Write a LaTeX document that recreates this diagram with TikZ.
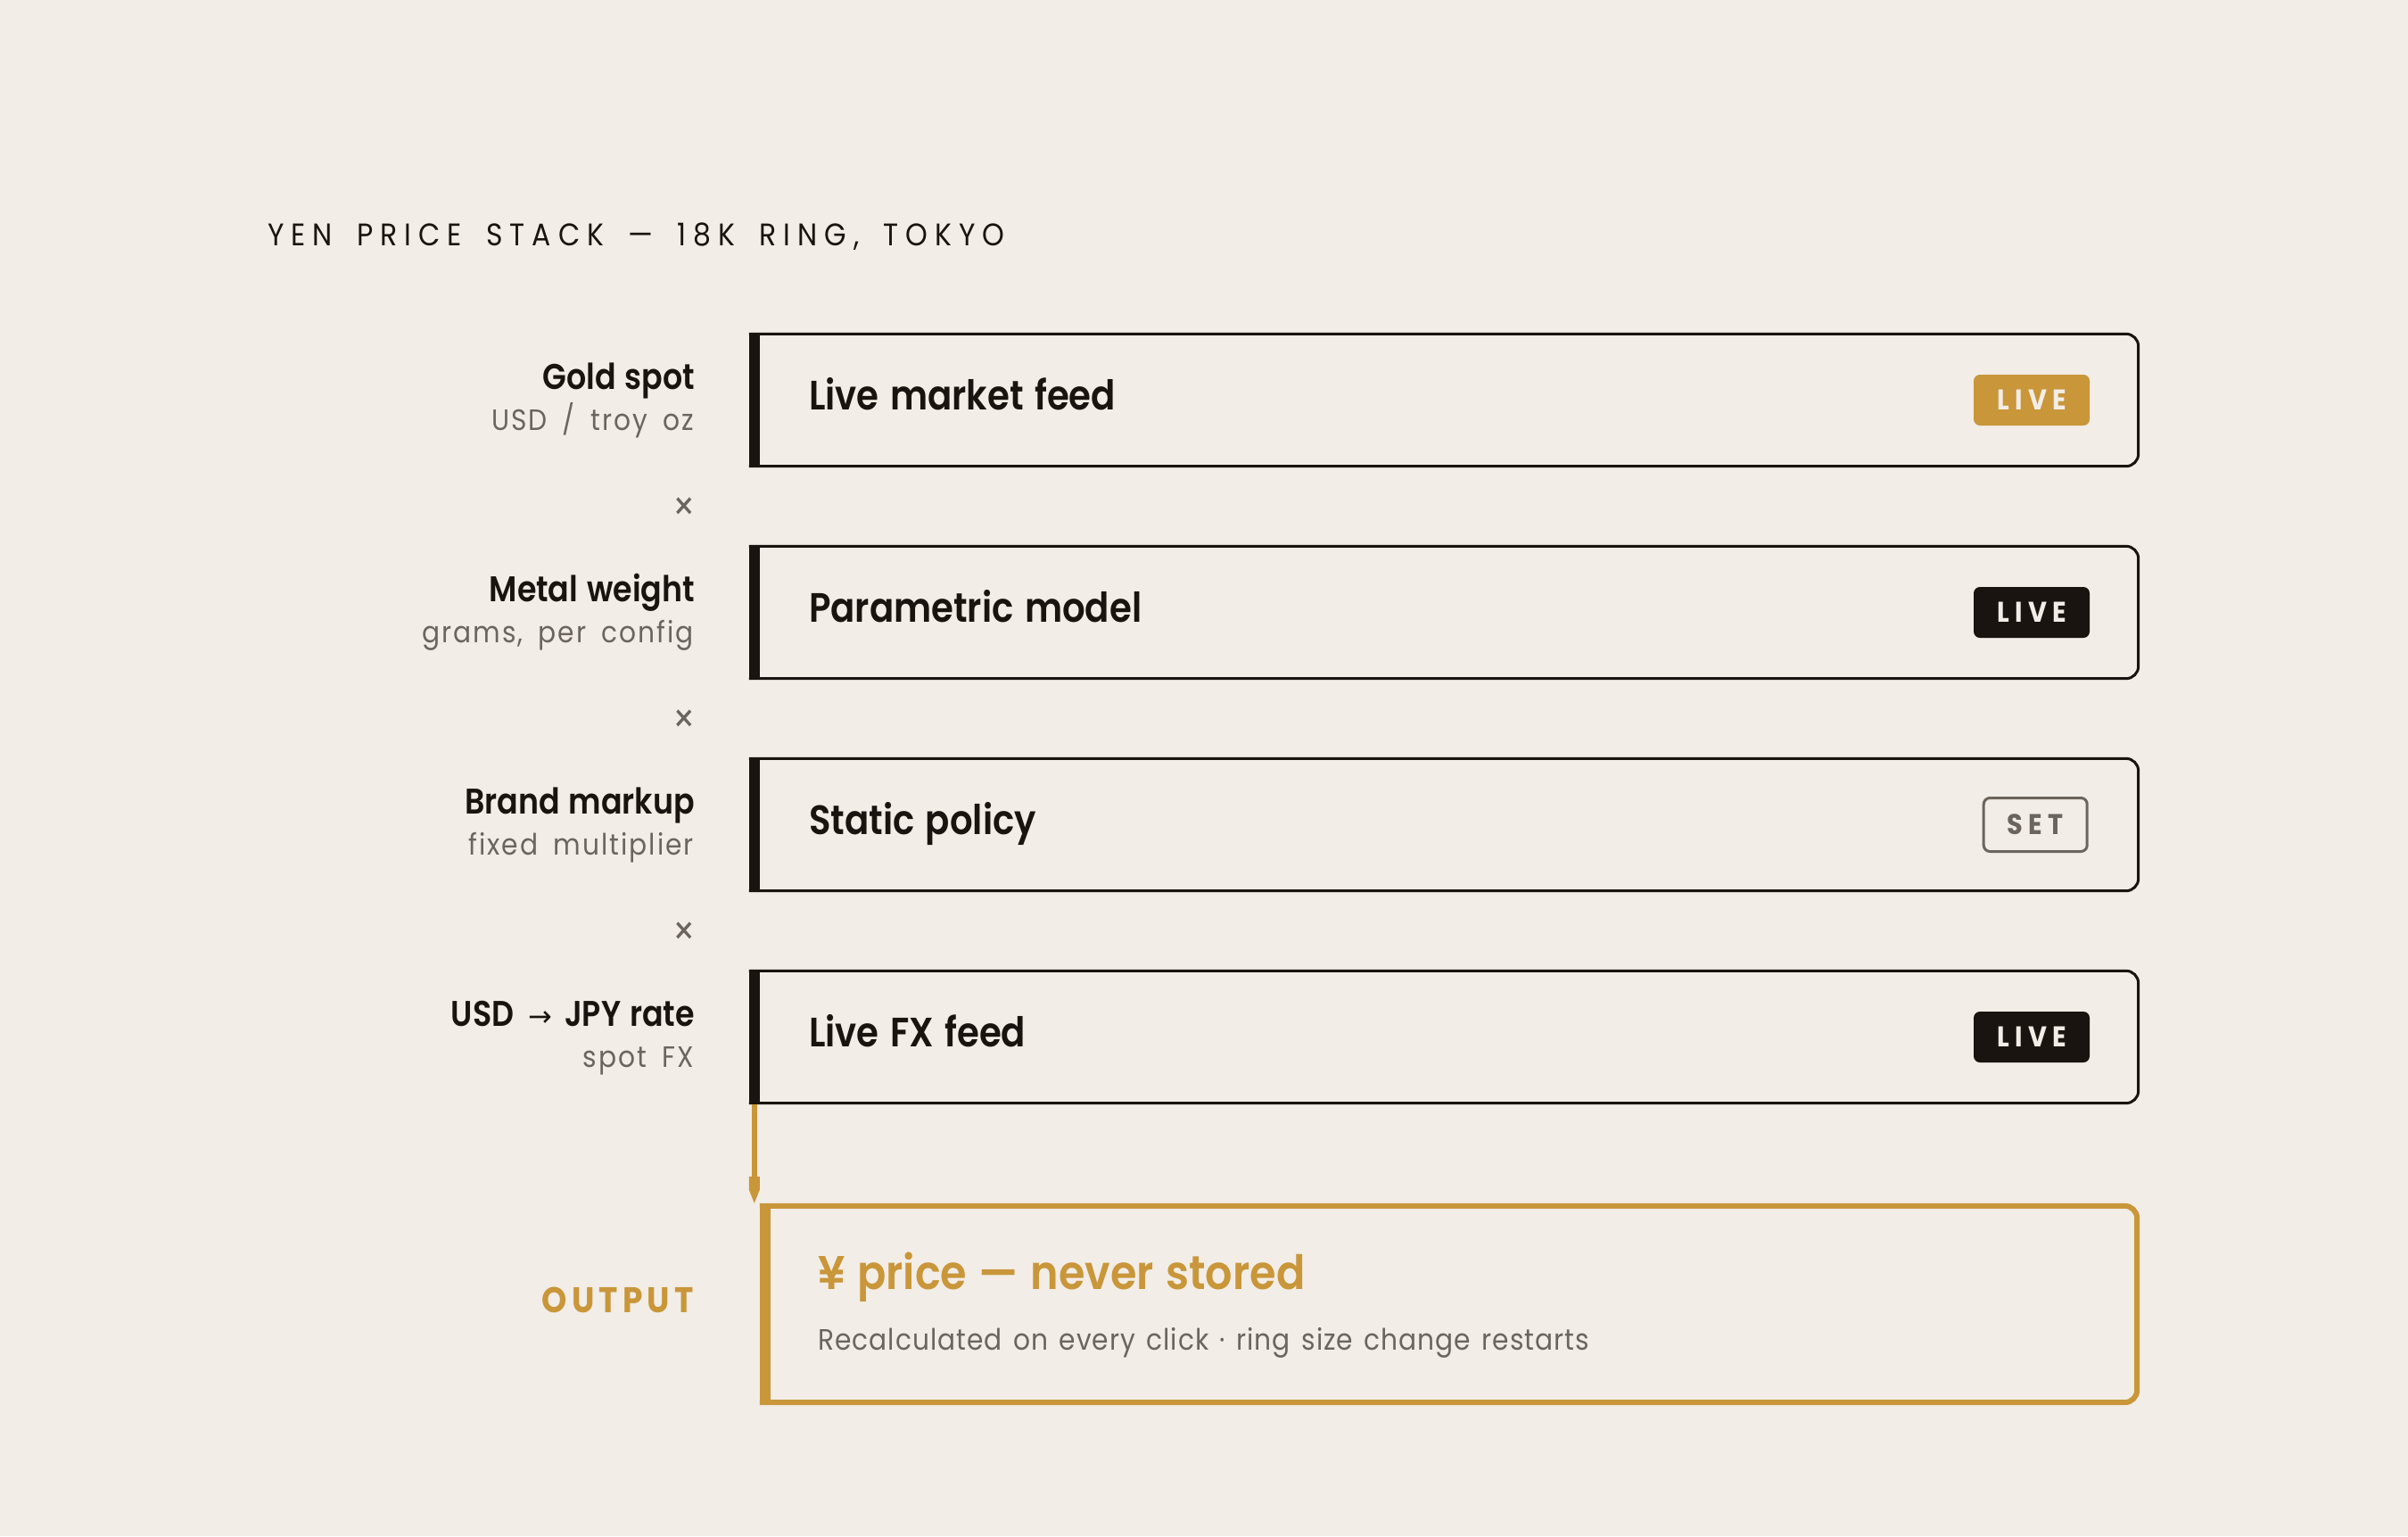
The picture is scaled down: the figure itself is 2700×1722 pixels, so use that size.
\documentclass[tikz,border=0pt]{standalone}
\usepackage{fontspec}
\setmainfont{Poppins}[FakeStretch=0.9]
\newfontfamily\fsemi{Poppins SemiBold}[FakeStretch=0.87, WordSpace=1.2]
\newfontfamily\fsemic{Poppins SemiBold}[FakeStretch=0.875, WordSpace=1.3]
\newfontfamily\fsemiw{Poppins SemiBold}[FakeStretch=0.9, WordSpace=1.2]
\newfontfamily\fboldsp{Poppins Bold}[FakeStretch=0.9, LetterSpace=20]
\newfontfamily\fboldout{Poppins Bold}[FakeStretch=0.9, LetterSpace=13]
\newfontfamily\ftitle{Poppins}[FakeStretch=0.9, LetterSpace=23, WordSpace=1.65]
\newfontfamily\fsub{Poppins}[FakeStretch=0.9, LetterSpace=6, WordSpace=1.75]
\newfontfamily\fsubb{Poppins}[FakeStretch=0.9, LetterSpace=3, WordSpace=1.4]
\newfontfamily\fsym{DejaVu Sans}
\usetikzlibrary{calc}
\definecolor{bg}{HTML}{F2EDE6}
\definecolor{ink}{HTML}{1A1410}
\definecolor{gold}{HTML}{C9963A}
\definecolor{greytext}{HTML}{6B655E}
\tikzset{
  card/.style={rectangle, draw=none, inner sep=0pt, minimum width=1559pt, minimum height=151pt},
  cardtitle/.style={anchor=base west, inner sep=0pt, text=ink, font={\fsemic\fontsize{46pt}{55pt}\selectfont}},
  lbl/.style={anchor=base east, inner sep=0pt, text=ink, font={\fsemi\fontsize{40pt}{48pt}\selectfont}},
  sublbl/.style={anchor=base east, inner sep=0pt, text=greytext, font={\fsub\fontsize{33pt}{40pt}\selectfont}},
  timesmark/.style={anchor=center, inner sep=0pt, text=greytext, font={\fontsize{44pt}{50pt}\selectfont}},
  badge/.style={anchor=east, rounded corners=7pt, minimum width=130pt, minimum height=57pt, inner sep=0pt, font={\fboldsp\fontsize{32pt}{38pt}\selectfont}},
  livegold/.style={badge, fill=gold, text=bg},
  liveink/.style={badge, fill=ink, text=bg},
  setbadge/.style={badge, draw=greytext, line width=3pt, text=greytext, minimum width=116pt, minimum height=60pt},
}
\newcommand\cardframe[4]{%
  \draw[draw=#2, line width=2*#3, rounded corners=14pt]
    ([yshift=-#3]#1.north west) -- ([xshift=-#3,yshift=-#3]#1.north east)
    -- ([xshift=-#3,yshift=#3]#1.south east) -- ([yshift=#3]#1.south west);
  \fill[#2] (#1.north west) rectangle ([xshift=#4]#1.south west);
}
\begin{document}
\begin{tikzpicture}[x=1pt,y=-1pt]
\fill[bg] (0,0) rectangle (2700,1722);
\useasboundingbox (0,0) rectangle (2700,1722);

\node[anchor=base west, inner sep=0pt, text=ink, font={\ftitle\fontsize{35pt}{42pt}\selectfont}] (ttl) at (300,275) {YEN PRICE STACK — 18K RING, TOKYO};

% cards
\node[card] (b1) at (1619.5,448.5) {};
\node[card] (b2) at (1619.5,686.5) {};
\node[card] (b3) at (1619.5,924.5) {};
\node[card] (b4) at (1619.5,1162.5) {};
\cardframe{b1}{ink}{1.5pt}{12pt}
\cardframe{b2}{ink}{1.5pt}{12pt}
\cardframe{b3}{ink}{1.5pt}{12pt}
\cardframe{b4}{ink}{1.5pt}{12pt}

\node[cardtitle] (t1) at ([xshift=67pt,yshift=-87pt]b1.north west) {Live market feed};
\node[cardtitle] (t2) at ([xshift=67pt,yshift=-87pt]b2.north west) {Parametric model};
\node[cardtitle] (t3) at ([xshift=67pt,yshift=-87pt]b3.north west) {Static policy};
\node[cardtitle] (t4) at ([xshift=67pt,yshift=-87pt]b4.north west) {Live FX feed};

\node[livegold] (g1) at ([xshift=-56pt]b1.east) {LIVE};
\node[liveink] (g2) at ([xshift=-56pt]b2.east) {LIVE};
\node[setbadge] (g3) at ([xshift=-57.5pt]b3.east) {SET};
\node[liveink] (g4) at ([xshift=-56pt]b4.east) {LIVE};

% left labels
\node[lbl] (l1) at (779,436) {Gold spot};
\node[sublbl] (s1) at (778,482) {USD / troy oz};
\node[lbl] (l2) at (779,674) {Metal weight};
\node[sublbl] (s2) at (778,720) {grams, per config};
\node[lbl] (l3) at (779,912) {Brand markup};
\node[sublbl] (s3) at (778,958) {fixed multiplier};
\node[lbl] (l4) at (779,1150) {USD\hspace{16pt}{\fsym\fontsize{32pt}{36pt}\selectfont →}\hspace{14pt}JPY rate};
\node[sublbl] (s4) at (778,1196) {spot FX};

\node[timesmark] (x1) at (767,571) {×};
\node[timesmark] (x2) at (767,809) {×};
\node[timesmark] (x3) at (767,1047) {×};

% output
\node[card, minimum width=1547pt, minimum height=226pt] (out) at (1625.5,1462) {};
\cardframe{out}{gold}{3pt}{12pt}
\node[anchor=base west, inner sep=0pt, text=gold, font={\fsemiw\fontsize{53pt}{60pt}\selectfont}] (ot) at (917,1445) {¥ price — never stored};
\node[anchor=base west, inner sep=0pt, text=greytext, font={\fsubb\fontsize{33pt}{40pt}\selectfont}] (os) at (917,1513) {Recalculated on every click · ring size change restarts};
\node[anchor=base east, inner sep=0pt, text=gold, font={\fboldout\fontsize{40pt}{48pt}\selectfont}] (olab) at (778,1471) {OUTPUT};

% connector
\coordinate (aS) at ([xshift=6pt]b4.south west);
\coordinate (aE) at (aS |- out.north);
\draw[draw=gold, line width=6pt] (aS) -- ([yshift=28pt]aE);
\fill[gold] (aE) -- ++(-6,-15) -- ++(0,-15) -- ++(12,0) -- ++(0,15) -- cycle;
\end{tikzpicture}
\end{document}
